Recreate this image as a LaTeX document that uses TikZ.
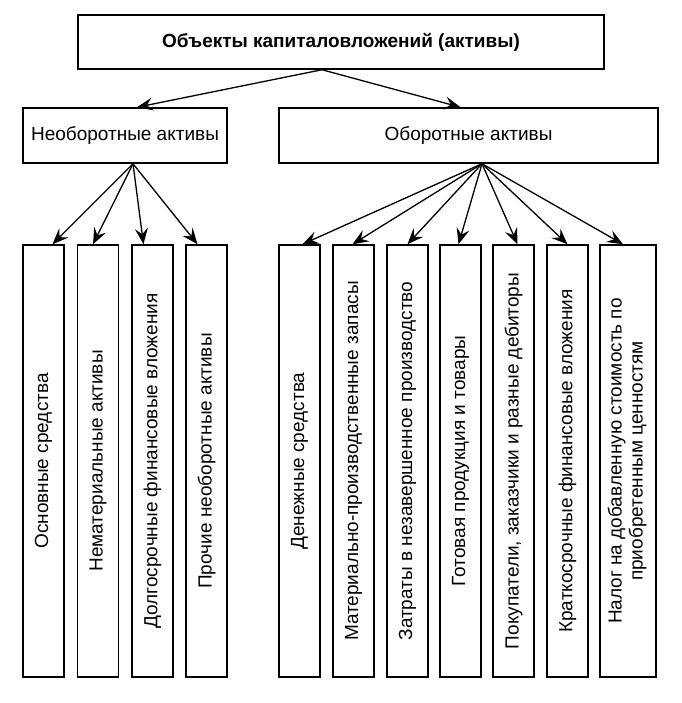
\documentclass[tikz,border=0pt]{standalone}
\usepackage{fontspec}
\setmainfont{Liberation Sans}
\usetikzlibrary{arrows.meta}

\begin{document}
\begin{tikzpicture}[x=1pt, y=1pt,
	kasten/.style={draw=black, line width=1.5pt, rectangle, inner sep=0pt,
		font=\fontsize{19}{21}\selectfont},
	pfeil/.style={line width=1.3pt, -{Stealth[length=16pt, width=13pt, inset=6pt]}}]
	\useasboundingbox (0,0) rectangle (681,703);

	% Oberste Ebene
	\node[kasten, minimum width=526pt, minimum height=54pt,
		font=\bfseries\fontsize{19}{21}\selectfont] (kapital) at (341, 661)
		{Объекты капиталовложений (активы)};

	% Zweite Ebene
	\node[kasten, minimum width=204pt, minimum height=55pt] (vneob) at (125, 567.5)
		{Необоротные активы};
	\node[kasten, minimum width=379pt, minimum height=55pt] (oborot) at (468.5, 567.5)
		{Оборотные активы};

	% Untere Ebene, Text senkrecht
	\foreach \name/\x/\txt in {os/43.5/Основные средства,
		nma/98/Нематериальные активы,
		dfv/152.5/Долгосрочные финансовые вложения,
		pna/206.5/Прочие необоротные активы,
		ds/299.5/Денежные средства,
		mpz/353.5/Материально-производственные запасы,
		nzp/407.5/Затраты в незавершенное производство,
		gp/460.5/Готовая продукция и товары,
		deb/513.5/{Покупатели, заказчики и разные дебиторы},
		kfv/567.5/Краткосрочные финансовые вложения}
		\node[kasten, minimum width=41pt, minimum height=432pt] (\name) at (\x, 242)
			{\rotatebox{90}{\txt}};
	\node[kasten, minimum width=56pt, minimum height=432pt] (nds) at (628, 242)
		{\rotatebox{90}{\begin{tabular}{@{}c@{}}Налог на добавленную стоимость по\\
		приобретенным ценностям\end{tabular}}};

	% Pfeile
	\draw[pfeil] ([xshift=-19pt]kapital.south) -- ([xshift=12pt]vneob.north);
	\draw[pfeil] ([xshift=-19pt]kapital.south) -- ([xshift=-8pt]oborot.north);
	\foreach \b/\s in {os/9, nma/-5, dfv/-9, pna/-9}
		\draw[pfeil] ([xshift=8pt]vneob.south) -- ([xshift=\s pt]\b.north);
	\foreach \b/\s in {ds/3, mpz/-1, nzp/0, gp/-2, deb/4, kfv/0, nds/-5}
		\draw[pfeil] ([xshift=13.5pt]oborot.south) -- ([xshift=\s pt]\b.north);
\end{tikzpicture}
\end{document}
